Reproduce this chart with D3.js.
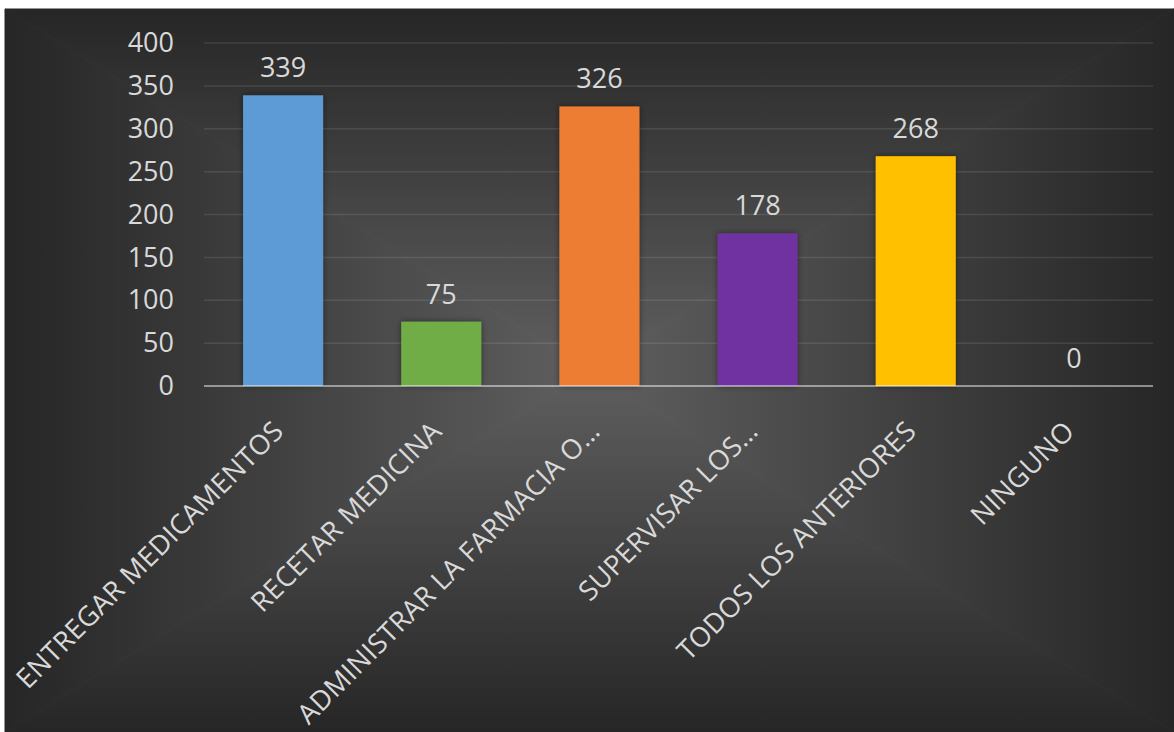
<!DOCTYPE html>
<html>
<head>
<meta charset="utf-8">
<script src="https://cdn.jsdelivr.net/npm/d3@7"></script>
<style>
  html, body { margin: 0; padding: 0; background: #ffffff; }
  svg { display: block; }
  text { font-family: "Open Sans", "Noto Sans", sans-serif; fill: #d9d9d9; }
</style>
</head>
<body>
<svg id="chart" width="1174" height="732"></svg>
<script>
// Chart data
const categories = [
  "ENTREGAR MEDICAMENTOS",
  "RECETAR MEDICINA",
  "ADMINISTRAR LA FARMACIA O…",
  "SUPERVISAR LOS…",
  "TODOS LOS ANTERIORES",
  "NINGUNO"
];
const values = [339, 75, 326, 178, 268, 0];
const barColors = ["#5B9BD5", "#70AD47", "#ED7D31", "#7030A0", "#FFC000", "#4472C4"];
const yTicks = [0, 50, 100, 150, 200, 250, 300, 350, 400];

const svg = d3.select("#chart");
const defs = svg.append("defs");

// Chart area with a rectangular (path) gradient: light centre, dark edges
const area = { x0: 5, y0: 9, x1: 1174, y1: 732 };
const cx = (area.x0 + area.x1) / 2, cy = (area.y0 + area.y1) / 2;
const centreColor = "#5f5f5f", edgeColor = "#262626";

function linGrad(id, x1, y1, x2, y2) {
  const g = defs.append("linearGradient").attr("id", id)
    .attr("gradientUnits", "userSpaceOnUse")
    .attr("x1", x1).attr("y1", y1).attr("x2", x2).attr("y2", y2);
  g.append("stop").attr("offset", 0).attr("stop-color", centreColor);
  g.append("stop").attr("offset", 1).attr("stop-color", edgeColor);
}
linGrad("gTop", cx, cy, cx, area.y0);
linGrad("gBottom", cx, cy, cx, area.y1);
linGrad("gLeft", cx, cy, area.x0, cy);
linGrad("gRight", cx, cy, area.x1, cy);

const bg = svg.append("g");
const tris = [
  { id: "gTop", pts: [[cx, cy], [area.x0, area.y0], [area.x1, area.y0]] },
  { id: "gBottom", pts: [[cx, cy], [area.x0, area.y1], [area.x1, area.y1]] },
  { id: "gLeft", pts: [[cx, cy], [area.x0, area.y0], [area.x0, area.y1]] },
  { id: "gRight", pts: [[cx, cy], [area.x1, area.y0], [area.x1, area.y1]] }
];
bg.selectAll("path").data(tris).join("path")
  .attr("d", d => "M" + d.pts.map(p => p.join(",")).join("L") + "Z")
  .attr("fill", d => `url(#${d.id})`)
  .attr("stroke", d => `url(#${d.id})`)
  .attr("stroke-width", 1);

// Soft shadow behind the bars
const shadow = defs.append("filter").attr("id", "barShadow")
  .attr("x", "-20%").attr("y", "-20%").attr("width", "140%").attr("height", "140%");
shadow.append("feDropShadow").attr("dx", 0).attr("dy", 0)
  .attr("stdDeviation", 3).attr("flood-color", "#000").attr("flood-opacity", 0.45);

// Scales
const plot = { left: 204, right: 1153, top: 43, bottom: 386 };
const x = d3.scaleBand().domain(categories).range([plot.left, plot.right]).padding(0);
const y = d3.scaleLinear().domain([0, 400]).range([plot.bottom, plot.top]);
const barW = x.bandwidth() * 0.506;

// Gridlines
svg.append("g")
  .selectAll("line").data(yTicks.filter(t => t > 0)).join("line")
  .attr("x1", plot.left).attr("x2", plot.right)
  .attr("y1", d => y(d)).attr("y2", d => y(d))
  .attr("stroke", "#ffffff").attr("stroke-opacity", 0.1).attr("stroke-width", 1.5);

// Y axis tick labels
const yAxis = d3.axisLeft(y).tickValues(yTicks).tickSize(0).tickPadding(0);
const yg = svg.append("g").attr("transform", `translate(174,0)`).call(yAxis);
yg.select(".domain").remove();
yg.selectAll("text")
  .attr("fill", "#d9d9d9")
  .style("font-family", '"Open Sans", "Noto Sans", sans-serif')
  .style("font-size", "27px");

// Bars
const rows = categories.map((c, i) => ({ cat: c, value: values[i], color: barColors[i] }));
svg.append("g").selectAll("rect").data(rows.filter(d => d.value > 0)).join("rect")
  .attr("x", d => x(d.cat) + (x.bandwidth() - barW) / 2)
  .attr("y", d => y(d.value))
  .attr("width", barW)
  .attr("height", d => y(0) - y(d.value))
  .attr("fill", d => d.color)
  .attr("filter", "url(#barShadow)");

// Baseline
svg.append("line")
  .attr("x1", plot.left).attr("x2", plot.right)
  .attr("y1", y(0)).attr("y2", y(0))
  .attr("stroke", "#ffffff").attr("stroke-opacity", 0.47).attr("stroke-width", 2);

// Value labels
svg.append("g").selectAll("text").data(rows).join("text")
  .attr("x", d => x(d.cat) + x.bandwidth() / 2)
  .attr("y", d => y(d.value) - 18)
  .attr("text-anchor", "middle")
  .style("font-size", "27px")
  .text(d => d.value);

// Category labels, rotated 45°
const xAxis = d3.axisBottom(x).tickSize(0).tickPadding(0);
const xg = svg.append("g").attr("transform", `translate(0,${plot.bottom})`).call(xAxis);
xg.select(".domain").remove();
xg.selectAll("text")
  .attr("fill", "#d9d9d9")
  .attr("y", 0).attr("dy", 0)
  .attr("text-anchor", "end")
  .attr("transform", "translate(2,47) rotate(-45)")
  .style("font-family", '"Open Sans", "Noto Sans", sans-serif')
  .style("font-size", "27.5px")
  .style("letter-spacing", "0.2px");
</script>
</body>
</html>
